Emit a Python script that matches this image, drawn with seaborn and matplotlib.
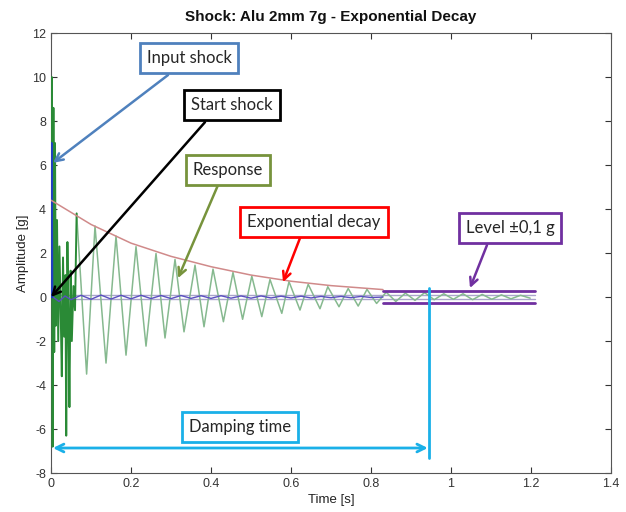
import numpy as np
import pandas as pd
import matplotlib
matplotlib.use("Agg")
import matplotlib.pyplot as plt
import seaborn as sns

# --- data ---
# early burst of the response (dark green)
burst_t = [0.000, 0.002, 0.004, 0.006, 0.008, 0.010, 0.012, 0.015, 0.018, 0.021, 0.024,
           0.027, 0.030, 0.033, 0.036, 0.038, 0.041, 0.044, 0.046, 0.049, 0.052, 0.056,
           0.060, 0.064]
burst_v = [0.0, 10.0, -6.8, 8.6, -2.5, 7.0, -1.3, 3.5, -2.0, 2.3, -0.5,
           -3.6, 1.8, -1.8, 1.0, -6.3, 2.5, -1.5, -5.0, 1.2, -2.0, 0.5,
           -0.6, 3.8]

# damped oscillation (peaks and troughs)
resp_t = [0.064, 0.089, 0.110, 0.1375, 0.1625, 0.1875, 0.2125, 0.2375, 0.2625, 0.285,
          0.310, 0.3325, 0.360, 0.3825, 0.405, 0.431, 0.455, 0.479, 0.502, 0.527,
          0.5475, 0.577, 0.595, 0.6225, 0.643, 0.6725, 0.692, 0.720, 0.743, 0.768,
          0.790, 0.814, 0.838, 0.862, 0.886, 0.910, 0.934, 0.958, 0.982, 1.006,
          1.030, 1.054, 1.078, 1.102, 1.126, 1.150, 1.174, 1.198]
resp_v = [3.8, -3.5, 3.23, -3.0, 2.77, -2.64, 2.29, -2.23, 1.98, -1.86,
          1.71, -1.58, 1.45, -1.35, 1.27, -1.12, 1.12, -1.01, 0.95, -0.89,
          0.80, -0.74, 0.70, -0.59, 0.58, -0.53, 0.47, -0.44, 0.39, -0.41,
          0.35, -0.29, 0.22, -0.20, 0.18, -0.15, 0.20, -0.12, 0.15, -0.10,
          0.15, -0.12, 0.12, -0.10, 0.10, -0.08, 0.08, -0.05]

# input shock (blue)
shock_t = [0.0, 0.0015, 0.003]
shock_v = [0.0, 7.0, 0.0]

# small input trace around zero
trace_t = [0.005, 0.020, 0.035, 0.050, 0.075, 0.100, 0.125, 0.150, 0.175, 0.200,
           0.225, 0.250, 0.275, 0.300, 0.325, 0.350, 0.375, 0.400, 0.425, 0.450,
           0.475, 0.500, 0.525, 0.550, 0.575, 0.600, 0.625, 0.650, 0.675, 0.700,
           0.725, 0.750, 0.775, 0.800, 0.830]
trace_v = [0.0, -0.20, 0.05, -0.12, 0.08, -0.10, 0.09, -0.09, 0.08, -0.08,
           0.08, -0.07, 0.07, -0.07, 0.07, -0.06, 0.06, -0.06, 0.06, -0.05,
           0.05, -0.05, 0.05, -0.04, 0.04, -0.04, 0.04, -0.04, 0.03, -0.03,
           0.03, -0.03, 0.03, -0.02, 0.0]

# exponential decay envelope
decay_t = [0.0, 0.1, 0.2, 0.3, 0.4, 0.5, 0.6, 0.7, 0.83]
decay_v = [4.4, 3.3, 2.45, 1.85, 1.38, 1.0, 0.72, 0.52, 0.34]

level_thin = 0.1
level_thick = 0.27
level_start, level_end = 0.83, 1.21
damping_time = 0.945

xticks = [0, 0.2, 0.4, 0.6, 0.8, 1.0, 1.2, 1.4]
xtick_labels = ["0", "0.2", "0.4", "0.6", "0.8", "1", "1.2", "1.4"]
yticks = [-8, -6, -4, -2, 0, 2, 4, 6, 8, 10, 12]

sns.set_theme(style="ticks")
plt.rcParams['font.family'] = ['Liberation Sans', 'DejaVu Sans']

fig = plt.figure(figsize=(6.26, 5.12), dpi=100)
ax = fig.add_axes([0.0815, 0.076, 0.8945, 0.8595])

ann_font = dict(family=['Lato', 'DejaVu Sans'], fontsize=12)

# thin level band
for lv in (level_thin, -level_thin):
    ax.plot([0, level_end], [lv, lv], color="#aaa4cc", lw=1.0, zorder=1)

sns.lineplot(x=resp_t, y=resp_v, estimator=None, sort=False, ax=ax,
             color="#86b98f", lw=1.1, zorder=2)
sns.lineplot(x=burst_t, y=burst_v, estimator=None, sort=False, ax=ax,
             color="#2a8a36", lw=1.4, zorder=3)
sns.lineplot(x=trace_t, y=trace_v, estimator=None, sort=False, ax=ax,
             color="#5a4fc0", lw=1.0, zorder=3)
sns.lineplot(x=shock_t, y=shock_v, estimator=None, sort=False, ax=ax,
             color="#2040c0", lw=1.6, zorder=4)
sns.lineplot(x=decay_t, y=decay_v, estimator=None, sort=False, ax=ax,
             color="#d08a8a", lw=1.1, zorder=4)

# thick level lines
for lv in (level_thick, -level_thick):
    ax.plot([level_start, level_end], [lv, lv], color="#7030a0", lw=2.0, zorder=5)

# damping time marks
ax.plot([damping_time, damping_time], [0.4, -7.3], color="#1ab0e8", lw=2.0, zorder=5)
ax.annotate("", xy=(0.005, -6.86), xytext=(damping_time - 0.003, -6.86),
            arrowprops=dict(arrowstyle="<->", color="#1ab0e8", lw=2.0,
                            mutation_scale=14, shrinkA=0, shrinkB=0))

# callouts: (text, box centre, arrow start, arrow end, colour)
callouts = [
    ("Input shock", (0.345, 10.86), (0.2925, 10.09), (0.005, 6.1), "#4f81bd"),
    ("Start shock", (0.4525, 8.73), (0.385, 7.95), (0.0, 0.0), "#000000"),
    ("Response", (0.4425, 5.77), (0.4175, 5.09), (0.3175, 0.86), "#77933c"),
    ("Exponential decay", (0.6575, 3.41), (0.6225, 2.68), (0.58, 0.68), "#ff0000"),
    ("Level \u00b10,1 g", (1.1475, 3.14), (1.09, 2.36), (1.0475, 0.41), "#7030a0"),
]
for text, centre, start, end, col in callouts:
    ax.annotate("", xy=end, xytext=start,
                arrowprops=dict(arrowstyle="->", color=col, lw=1.8,
                                mutation_scale=14, shrinkA=0, shrinkB=0),
                zorder=6)
    ax.text(centre[0], centre[1], text, ha="center", va="center", zorder=7,
            bbox=dict(boxstyle="square,pad=0.42", fc="white", ec=col, lw=2.0),
            **ann_font)

ax.text(0.4725, -5.91, "Damping time", ha="center", va="center", zorder=7,
        bbox=dict(boxstyle="square,pad=0.42", fc="white", ec="#1ab0e8", lw=2.0),
        **ann_font)

ax.set_xlim(0, 1.4)
ax.set_ylim(-8, 12)
ax.set_xticks(xticks)
ax.set_xticklabels(xtick_labels)
ax.set_yticks(yticks)
ax.set_yticklabels([str(v) for v in yticks])
ax.tick_params(direction="in", length=4, width=0.8, top=True, right=True,
               labelsize=9, colors="#333333", labelcolor="#333333")
for sp in ax.spines.values():
    sp.set_visible(True)
    sp.set_color("#555555")
    sp.set_linewidth(0.8)

ax.set_xlabel("Time [s]", fontsize=9.5, color="#222222", labelpad=3)
ax.set_ylabel("Amplitude [g]", fontsize=9.5, color="#222222", labelpad=2)
ax.set_title("Shock: Alu 2mm 7g - Exponential Decay", fontsize=11,
             fontweight="bold", color="#111111", pad=9)

fig.savefig("out.png", dpi=100)
